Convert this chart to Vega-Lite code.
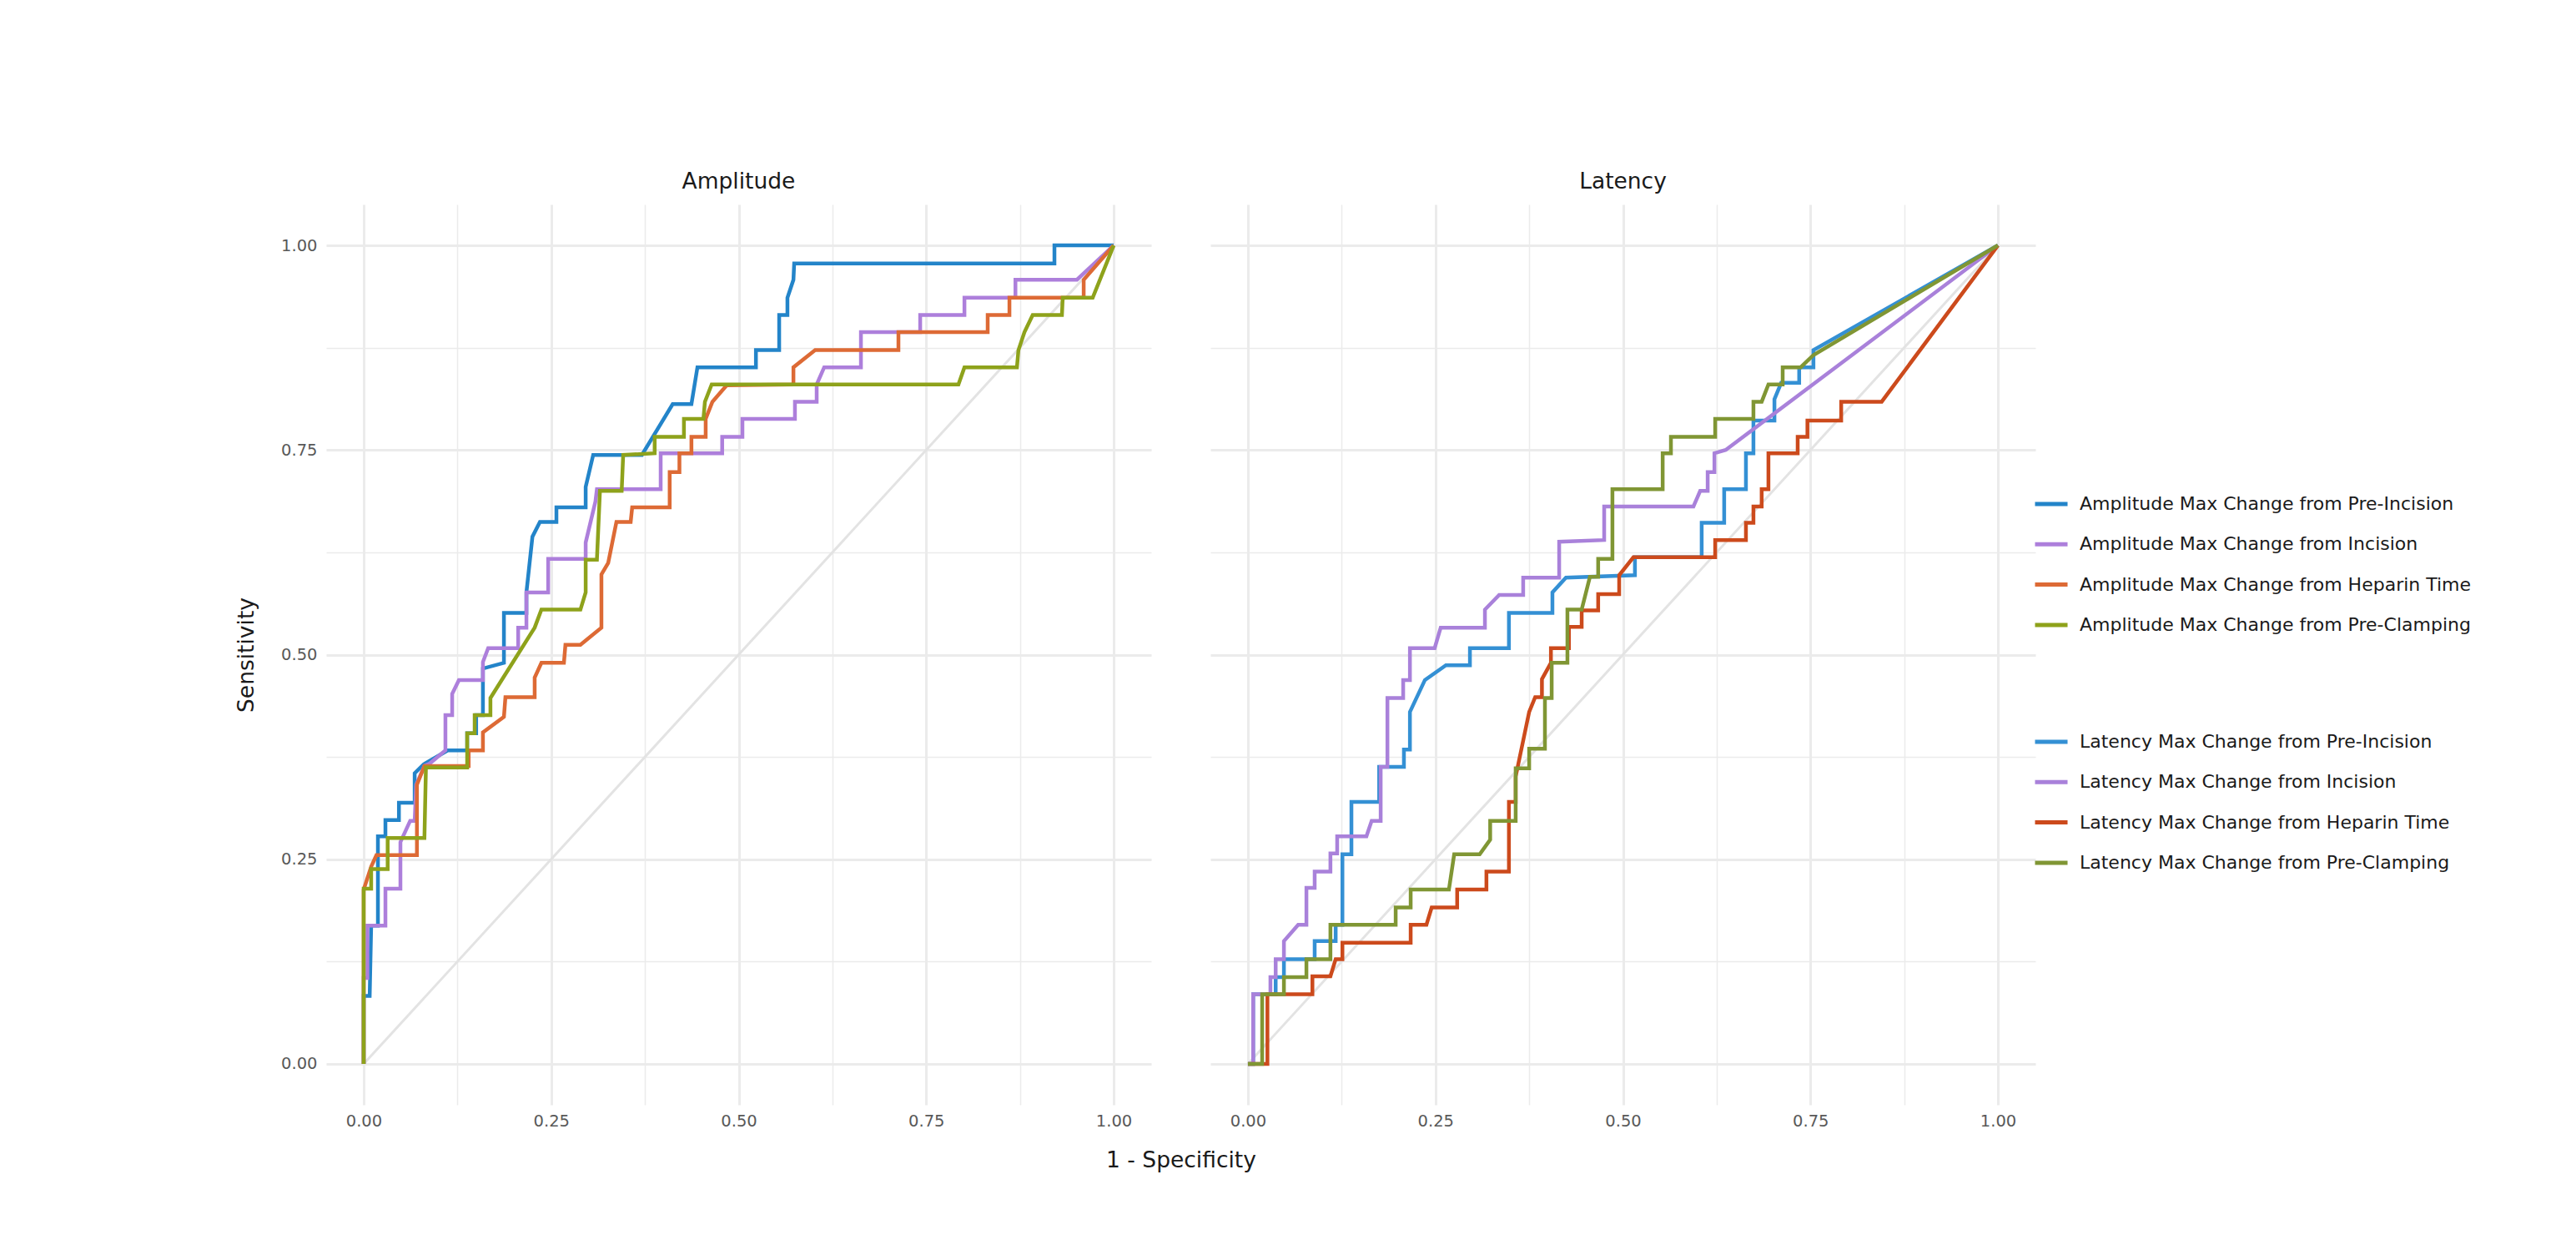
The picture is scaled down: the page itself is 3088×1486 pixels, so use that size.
{
  "$schema": "https://vega.github.io/schema/vega-lite/v6.json",
  "background": "white",
  "padding": {"left": 282, "top": 204, "right": 40, "bottom": 40},
  "config": {
    "font": "DejaVu Sans",
    "view": {"stroke": null}
  },
  "datasets": {
    "roc": [
      {"m":"Amplitude","s":"ref","x":0,"y":0},{"m":"Amplitude","s":"ref","x":1,"y":1},
      {"m":"Latency","s":"ref","x":0,"y":0},{"m":"Latency","s":"ref","x":1,"y":1},

      {"m":"Amplitude","s":"Amplitude Max Change from Pre-Incision","x":0,"y":0},{"m":"Amplitude","s":"Amplitude Max Change from Pre-Incision","x":0,"y":0.083},{"m":"Amplitude","s":"Amplitude Max Change from Pre-Incision","x":0.008,"y":0.083},{"m":"Amplitude","s":"Amplitude Max Change from Pre-Incision","x":0.010,"y":0.169},{"m":"Amplitude","s":"Amplitude Max Change from Pre-Incision","x":0.019,"y":0.169},{"m":"Amplitude","s":"Amplitude Max Change from Pre-Incision","x":0.019,"y":0.278},{"m":"Amplitude","s":"Amplitude Max Change from Pre-Incision","x":0.029,"y":0.278},{"m":"Amplitude","s":"Amplitude Max Change from Pre-Incision","x":0.029,"y":0.298},{"m":"Amplitude","s":"Amplitude Max Change from Pre-Incision","x":0.047,"y":0.298},{"m":"Amplitude","s":"Amplitude Max Change from Pre-Incision","x":0.047,"y":0.319},{"m":"Amplitude","s":"Amplitude Max Change from Pre-Incision","x":0.068,"y":0.319},{"m":"Amplitude","s":"Amplitude Max Change from Pre-Incision","x":0.068,"y":0.355},{"m":"Amplitude","s":"Amplitude Max Change from Pre-Incision","x":0.080,"y":0.366},{"m":"Amplitude","s":"Amplitude Max Change from Pre-Incision","x":0.112,"y":0.383},{"m":"Amplitude","s":"Amplitude Max Change from Pre-Incision","x":0.138,"y":0.383},{"m":"Amplitude","s":"Amplitude Max Change from Pre-Incision","x":0.138,"y":0.404},{"m":"Amplitude","s":"Amplitude Max Change from Pre-Incision","x":0.150,"y":0.404},{"m":"Amplitude","s":"Amplitude Max Change from Pre-Incision","x":0.150,"y":0.426},{"m":"Amplitude","s":"Amplitude Max Change from Pre-Incision","x":0.159,"y":0.426},{"m":"Amplitude","s":"Amplitude Max Change from Pre-Incision","x":0.159,"y":0.483},{"m":"Amplitude","s":"Amplitude Max Change from Pre-Incision","x":0.187,"y":0.490},{"m":"Amplitude","s":"Amplitude Max Change from Pre-Incision","x":0.187,"y":0.551},{"m":"Amplitude","s":"Amplitude Max Change from Pre-Incision","x":0.217,"y":0.551},{"m":"Amplitude","s":"Amplitude Max Change from Pre-Incision","x":0.217,"y":0.576},{"m":"Amplitude","s":"Amplitude Max Change from Pre-Incision","x":0.225,"y":0.644},{"m":"Amplitude","s":"Amplitude Max Change from Pre-Incision","x":0.235,"y":0.662},{"m":"Amplitude","s":"Amplitude Max Change from Pre-Incision","x":0.257,"y":0.662},{"m":"Amplitude","s":"Amplitude Max Change from Pre-Incision","x":0.257,"y":0.680},{"m":"Amplitude","s":"Amplitude Max Change from Pre-Incision","x":0.296,"y":0.680},{"m":"Amplitude","s":"Amplitude Max Change from Pre-Incision","x":0.296,"y":0.705},{"m":"Amplitude","s":"Amplitude Max Change from Pre-Incision","x":0.306,"y":0.744},{"m":"Amplitude","s":"Amplitude Max Change from Pre-Incision","x":0.371,"y":0.744},{"m":"Amplitude","s":"Amplitude Max Change from Pre-Incision","x":0.412,"y":0.806},{"m":"Amplitude","s":"Amplitude Max Change from Pre-Incision","x":0.437,"y":0.806},{"m":"Amplitude","s":"Amplitude Max Change from Pre-Incision","x":0.445,"y":0.851},{"m":"Amplitude","s":"Amplitude Max Change from Pre-Incision","x":0.523,"y":0.851},{"m":"Amplitude","s":"Amplitude Max Change from Pre-Incision","x":0.523,"y":0.872},{"m":"Amplitude","s":"Amplitude Max Change from Pre-Incision","x":0.554,"y":0.872},{"m":"Amplitude","s":"Amplitude Max Change from Pre-Incision","x":0.554,"y":0.915},{"m":"Amplitude","s":"Amplitude Max Change from Pre-Incision","x":0.565,"y":0.915},{"m":"Amplitude","s":"Amplitude Max Change from Pre-Incision","x":0.565,"y":0.936},{"m":"Amplitude","s":"Amplitude Max Change from Pre-Incision","x":0.573,"y":0.958},{"m":"Amplitude","s":"Amplitude Max Change from Pre-Incision","x":0.574,"y":0.978},{"m":"Amplitude","s":"Amplitude Max Change from Pre-Incision","x":0.921,"y":0.978},{"m":"Amplitude","s":"Amplitude Max Change from Pre-Incision","x":0.921,"y":1},{"m":"Amplitude","s":"Amplitude Max Change from Pre-Incision","x":1,"y":1},

      {"m":"Amplitude","s":"Amplitude Max Change from Incision","x":0,"y":0},{"m":"Amplitude","s":"Amplitude Max Change from Incision","x":0,"y":0.105},{"m":"Amplitude","s":"Amplitude Max Change from Incision","x":0.005,"y":0.105},{"m":"Amplitude","s":"Amplitude Max Change from Incision","x":0.005,"y":0.169},{"m":"Amplitude","s":"Amplitude Max Change from Incision","x":0.029,"y":0.169},{"m":"Amplitude","s":"Amplitude Max Change from Incision","x":0.029,"y":0.214},{"m":"Amplitude","s":"Amplitude Max Change from Incision","x":0.049,"y":0.214},{"m":"Amplitude","s":"Amplitude Max Change from Incision","x":0.049,"y":0.271},{"m":"Amplitude","s":"Amplitude Max Change from Incision","x":0.062,"y":0.297},{"m":"Amplitude","s":"Amplitude Max Change from Incision","x":0.068,"y":0.297},{"m":"Amplitude","s":"Amplitude Max Change from Incision","x":0.070,"y":0.341},{"m":"Amplitude","s":"Amplitude Max Change from Incision","x":0.081,"y":0.364},{"m":"Amplitude","s":"Amplitude Max Change from Incision","x":0.088,"y":0.367},{"m":"Amplitude","s":"Amplitude Max Change from Incision","x":0.109,"y":0.383},{"m":"Amplitude","s":"Amplitude Max Change from Incision","x":0.109,"y":0.426},{"m":"Amplitude","s":"Amplitude Max Change from Incision","x":0.118,"y":0.426},{"m":"Amplitude","s":"Amplitude Max Change from Incision","x":0.118,"y":0.452},{"m":"Amplitude","s":"Amplitude Max Change from Incision","x":0.127,"y":0.469},{"m":"Amplitude","s":"Amplitude Max Change from Incision","x":0.159,"y":0.469},{"m":"Amplitude","s":"Amplitude Max Change from Incision","x":0.159,"y":0.491},{"m":"Amplitude","s":"Amplitude Max Change from Incision","x":0.166,"y":0.508},{"m":"Amplitude","s":"Amplitude Max Change from Incision","x":0.206,"y":0.508},{"m":"Amplitude","s":"Amplitude Max Change from Incision","x":0.206,"y":0.533},{"m":"Amplitude","s":"Amplitude Max Change from Incision","x":0.217,"y":0.533},{"m":"Amplitude","s":"Amplitude Max Change from Incision","x":0.217,"y":0.576},{"m":"Amplitude","s":"Amplitude Max Change from Incision","x":0.246,"y":0.576},{"m":"Amplitude","s":"Amplitude Max Change from Incision","x":0.246,"y":0.617},{"m":"Amplitude","s":"Amplitude Max Change from Incision","x":0.296,"y":0.617},{"m":"Amplitude","s":"Amplitude Max Change from Incision","x":0.296,"y":0.637},{"m":"Amplitude","s":"Amplitude Max Change from Incision","x":0.309,"y":0.687},{"m":"Amplitude","s":"Amplitude Max Change from Incision","x":0.311,"y":0.702},{"m":"Amplitude","s":"Amplitude Max Change from Incision","x":0.396,"y":0.702},{"m":"Amplitude","s":"Amplitude Max Change from Incision","x":0.396,"y":0.746},{"m":"Amplitude","s":"Amplitude Max Change from Incision","x":0.478,"y":0.746},{"m":"Amplitude","s":"Amplitude Max Change from Incision","x":0.478,"y":0.766},{"m":"Amplitude","s":"Amplitude Max Change from Incision","x":0.505,"y":0.766},{"m":"Amplitude","s":"Amplitude Max Change from Incision","x":0.505,"y":0.788},{"m":"Amplitude","s":"Amplitude Max Change from Incision","x":0.575,"y":0.788},{"m":"Amplitude","s":"Amplitude Max Change from Incision","x":0.575,"y":0.809},{"m":"Amplitude","s":"Amplitude Max Change from Incision","x":0.604,"y":0.809},{"m":"Amplitude","s":"Amplitude Max Change from Incision","x":0.604,"y":0.830},{"m":"Amplitude","s":"Amplitude Max Change from Incision","x":0.614,"y":0.851},{"m":"Amplitude","s":"Amplitude Max Change from Incision","x":0.663,"y":0.851},{"m":"Amplitude","s":"Amplitude Max Change from Incision","x":0.663,"y":0.894},{"m":"Amplitude","s":"Amplitude Max Change from Incision","x":0.742,"y":0.894},{"m":"Amplitude","s":"Amplitude Max Change from Incision","x":0.742,"y":0.915},{"m":"Amplitude","s":"Amplitude Max Change from Incision","x":0.801,"y":0.915},{"m":"Amplitude","s":"Amplitude Max Change from Incision","x":0.801,"y":0.936},{"m":"Amplitude","s":"Amplitude Max Change from Incision","x":0.869,"y":0.936},{"m":"Amplitude","s":"Amplitude Max Change from Incision","x":0.869,"y":0.958},{"m":"Amplitude","s":"Amplitude Max Change from Incision","x":0.951,"y":0.958},{"m":"Amplitude","s":"Amplitude Max Change from Incision","x":1,"y":1},

      {"m":"Amplitude","s":"Amplitude Max Change from Heparin Time","x":0,"y":0},{"m":"Amplitude","s":"Amplitude Max Change from Heparin Time","x":0,"y":0.213},{"m":"Amplitude","s":"Amplitude Max Change from Heparin Time","x":0.010,"y":0.241},{"m":"Amplitude","s":"Amplitude Max Change from Heparin Time","x":0.017,"y":0.255},{"m":"Amplitude","s":"Amplitude Max Change from Heparin Time","x":0.071,"y":0.255},{"m":"Amplitude","s":"Amplitude Max Change from Heparin Time","x":0.071,"y":0.341},{"m":"Amplitude","s":"Amplitude Max Change from Heparin Time","x":0.081,"y":0.364},{"m":"Amplitude","s":"Amplitude Max Change from Heparin Time","x":0.140,"y":0.364},{"m":"Amplitude","s":"Amplitude Max Change from Heparin Time","x":0.140,"y":0.383},{"m":"Amplitude","s":"Amplitude Max Change from Heparin Time","x":0.159,"y":0.383},{"m":"Amplitude","s":"Amplitude Max Change from Heparin Time","x":0.159,"y":0.405},{"m":"Amplitude","s":"Amplitude Max Change from Heparin Time","x":0.187,"y":0.424},{"m":"Amplitude","s":"Amplitude Max Change from Heparin Time","x":0.189,"y":0.448},{"m":"Amplitude","s":"Amplitude Max Change from Heparin Time","x":0.228,"y":0.448},{"m":"Amplitude","s":"Amplitude Max Change from Heparin Time","x":0.228,"y":0.472},{"m":"Amplitude","s":"Amplitude Max Change from Heparin Time","x":0.237,"y":0.490},{"m":"Amplitude","s":"Amplitude Max Change from Heparin Time","x":0.267,"y":0.490},{"m":"Amplitude","s":"Amplitude Max Change from Heparin Time","x":0.269,"y":0.512},{"m":"Amplitude","s":"Amplitude Max Change from Heparin Time","x":0.289,"y":0.512},{"m":"Amplitude","s":"Amplitude Max Change from Heparin Time","x":0.317,"y":0.533},{"m":"Amplitude","s":"Amplitude Max Change from Heparin Time","x":0.317,"y":0.598},{"m":"Amplitude","s":"Amplitude Max Change from Heparin Time","x":0.326,"y":0.612},{"m":"Amplitude","s":"Amplitude Max Change from Heparin Time","x":0.337,"y":0.662},{"m":"Amplitude","s":"Amplitude Max Change from Heparin Time","x":0.356,"y":0.662},{"m":"Amplitude","s":"Amplitude Max Change from Heparin Time","x":0.358,"y":0.680},{"m":"Amplitude","s":"Amplitude Max Change from Heparin Time","x":0.408,"y":0.680},{"m":"Amplitude","s":"Amplitude Max Change from Heparin Time","x":0.408,"y":0.723},{"m":"Amplitude","s":"Amplitude Max Change from Heparin Time","x":0.421,"y":0.723},{"m":"Amplitude","s":"Amplitude Max Change from Heparin Time","x":0.421,"y":0.746},{"m":"Amplitude","s":"Amplitude Max Change from Heparin Time","x":0.437,"y":0.746},{"m":"Amplitude","s":"Amplitude Max Change from Heparin Time","x":0.437,"y":0.766},{"m":"Amplitude","s":"Amplitude Max Change from Heparin Time","x":0.456,"y":0.766},{"m":"Amplitude","s":"Amplitude Max Change from Heparin Time","x":0.456,"y":0.788},{"m":"Amplitude","s":"Amplitude Max Change from Heparin Time","x":0.465,"y":0.809},{"m":"Amplitude","s":"Amplitude Max Change from Heparin Time","x":0.484,"y":0.829},{"m":"Amplitude","s":"Amplitude Max Change from Heparin Time","x":0.573,"y":0.830},{"m":"Amplitude","s":"Amplitude Max Change from Heparin Time","x":0.573,"y":0.851},{"m":"Amplitude","s":"Amplitude Max Change from Heparin Time","x":0.602,"y":0.872},{"m":"Amplitude","s":"Amplitude Max Change from Heparin Time","x":0.713,"y":0.872},{"m":"Amplitude","s":"Amplitude Max Change from Heparin Time","x":0.713,"y":0.894},{"m":"Amplitude","s":"Amplitude Max Change from Heparin Time","x":0.832,"y":0.894},{"m":"Amplitude","s":"Amplitude Max Change from Heparin Time","x":0.832,"y":0.915},{"m":"Amplitude","s":"Amplitude Max Change from Heparin Time","x":0.861,"y":0.915},{"m":"Amplitude","s":"Amplitude Max Change from Heparin Time","x":0.861,"y":0.936},{"m":"Amplitude","s":"Amplitude Max Change from Heparin Time","x":0.960,"y":0.936},{"m":"Amplitude","s":"Amplitude Max Change from Heparin Time","x":0.960,"y":0.958},{"m":"Amplitude","s":"Amplitude Max Change from Heparin Time","x":1,"y":1},

      {"m":"Amplitude","s":"Amplitude Max Change from Pre-Clamping","x":0,"y":0},{"m":"Amplitude","s":"Amplitude Max Change from Pre-Clamping","x":0,"y":0.214},{"m":"Amplitude","s":"Amplitude Max Change from Pre-Clamping","x":0.010,"y":0.214},{"m":"Amplitude","s":"Amplitude Max Change from Pre-Clamping","x":0.010,"y":0.238},{"m":"Amplitude","s":"Amplitude Max Change from Pre-Clamping","x":0.032,"y":0.238},{"m":"Amplitude","s":"Amplitude Max Change from Pre-Clamping","x":0.032,"y":0.276},{"m":"Amplitude","s":"Amplitude Max Change from Pre-Clamping","x":0.081,"y":0.276},{"m":"Amplitude","s":"Amplitude Max Change from Pre-Clamping","x":0.083,"y":0.362},{"m":"Amplitude","s":"Amplitude Max Change from Pre-Clamping","x":0.138,"y":0.362},{"m":"Amplitude","s":"Amplitude Max Change from Pre-Clamping","x":0.138,"y":0.404},{"m":"Amplitude","s":"Amplitude Max Change from Pre-Clamping","x":0.148,"y":0.404},{"m":"Amplitude","s":"Amplitude Max Change from Pre-Clamping","x":0.148,"y":0.426},{"m":"Amplitude","s":"Amplitude Max Change from Pre-Clamping","x":0.169,"y":0.426},{"m":"Amplitude","s":"Amplitude Max Change from Pre-Clamping","x":0.169,"y":0.447},{"m":"Amplitude","s":"Amplitude Max Change from Pre-Clamping","x":0.228,"y":0.533},{"m":"Amplitude","s":"Amplitude Max Change from Pre-Clamping","x":0.237,"y":0.555},{"m":"Amplitude","s":"Amplitude Max Change from Pre-Clamping","x":0.289,"y":0.555},{"m":"Amplitude","s":"Amplitude Max Change from Pre-Clamping","x":0.296,"y":0.576},{"m":"Amplitude","s":"Amplitude Max Change from Pre-Clamping","x":0.296,"y":0.616},{"m":"Amplitude","s":"Amplitude Max Change from Pre-Clamping","x":0.311,"y":0.616},{"m":"Amplitude","s":"Amplitude Max Change from Pre-Clamping","x":0.315,"y":0.700},{"m":"Amplitude","s":"Amplitude Max Change from Pre-Clamping","x":0.344,"y":0.700},{"m":"Amplitude","s":"Amplitude Max Change from Pre-Clamping","x":0.346,"y":0.744},{"m":"Amplitude","s":"Amplitude Max Change from Pre-Clamping","x":0.388,"y":0.746},{"m":"Amplitude","s":"Amplitude Max Change from Pre-Clamping","x":0.388,"y":0.766},{"m":"Amplitude","s":"Amplitude Max Change from Pre-Clamping","x":0.427,"y":0.766},{"m":"Amplitude","s":"Amplitude Max Change from Pre-Clamping","x":0.427,"y":0.788},{"m":"Amplitude","s":"Amplitude Max Change from Pre-Clamping","x":0.453,"y":0.788},{"m":"Amplitude","s":"Amplitude Max Change from Pre-Clamping","x":0.455,"y":0.809},{"m":"Amplitude","s":"Amplitude Max Change from Pre-Clamping","x":0.464,"y":0.830},{"m":"Amplitude","s":"Amplitude Max Change from Pre-Clamping","x":0.793,"y":0.830},{"m":"Amplitude","s":"Amplitude Max Change from Pre-Clamping","x":0.801,"y":0.851},{"m":"Amplitude","s":"Amplitude Max Change from Pre-Clamping","x":0.871,"y":0.851},{"m":"Amplitude","s":"Amplitude Max Change from Pre-Clamping","x":0.873,"y":0.872},{"m":"Amplitude","s":"Amplitude Max Change from Pre-Clamping","x":0.881,"y":0.894},{"m":"Amplitude","s":"Amplitude Max Change from Pre-Clamping","x":0.892,"y":0.915},{"m":"Amplitude","s":"Amplitude Max Change from Pre-Clamping","x":0.931,"y":0.915},{"m":"Amplitude","s":"Amplitude Max Change from Pre-Clamping","x":0.932,"y":0.936},{"m":"Amplitude","s":"Amplitude Max Change from Pre-Clamping","x":0.972,"y":0.936},{"m":"Amplitude","s":"Amplitude Max Change from Pre-Clamping","x":1,"y":1},

      {"m":"Latency","s":"Latency Max Change from Pre-Incision","x":0,"y":0},{"m":"Latency","s":"Latency Max Change from Pre-Incision","x":0.007,"y":0},{"m":"Latency","s":"Latency Max Change from Pre-Incision","x":0.007,"y":0.085},{"m":"Latency","s":"Latency Max Change from Pre-Incision","x":0.037,"y":0.085},{"m":"Latency","s":"Latency Max Change from Pre-Incision","x":0.037,"y":0.106},{"m":"Latency","s":"Latency Max Change from Pre-Incision","x":0.048,"y":0.106},{"m":"Latency","s":"Latency Max Change from Pre-Incision","x":0.048,"y":0.128},{"m":"Latency","s":"Latency Max Change from Pre-Incision","x":0.089,"y":0.128},{"m":"Latency","s":"Latency Max Change from Pre-Incision","x":0.089,"y":0.150},{"m":"Latency","s":"Latency Max Change from Pre-Incision","x":0.117,"y":0.150},{"m":"Latency","s":"Latency Max Change from Pre-Incision","x":0.117,"y":0.170},{"m":"Latency","s":"Latency Max Change from Pre-Incision","x":0.126,"y":0.170},{"m":"Latency","s":"Latency Max Change from Pre-Incision","x":0.126,"y":0.256},{"m":"Latency","s":"Latency Max Change from Pre-Incision","x":0.138,"y":0.256},{"m":"Latency","s":"Latency Max Change from Pre-Incision","x":0.138,"y":0.320},{"m":"Latency","s":"Latency Max Change from Pre-Incision","x":0.175,"y":0.320},{"m":"Latency","s":"Latency Max Change from Pre-Incision","x":0.175,"y":0.363},{"m":"Latency","s":"Latency Max Change from Pre-Incision","x":0.208,"y":0.363},{"m":"Latency","s":"Latency Max Change from Pre-Incision","x":0.208,"y":0.384},{"m":"Latency","s":"Latency Max Change from Pre-Incision","x":0.216,"y":0.384},{"m":"Latency","s":"Latency Max Change from Pre-Incision","x":0.216,"y":0.430},{"m":"Latency","s":"Latency Max Change from Pre-Incision","x":0.236,"y":0.469},{"m":"Latency","s":"Latency Max Change from Pre-Incision","x":0.264,"y":0.487},{"m":"Latency","s":"Latency Max Change from Pre-Incision","x":0.296,"y":0.487},{"m":"Latency","s":"Latency Max Change from Pre-Incision","x":0.296,"y":0.508},{"m":"Latency","s":"Latency Max Change from Pre-Incision","x":0.348,"y":0.508},{"m":"Latency","s":"Latency Max Change from Pre-Incision","x":0.348,"y":0.551},{"m":"Latency","s":"Latency Max Change from Pre-Incision","x":0.406,"y":0.551},{"m":"Latency","s":"Latency Max Change from Pre-Incision","x":0.406,"y":0.576},{"m":"Latency","s":"Latency Max Change from Pre-Incision","x":0.424,"y":0.594},{"m":"Latency","s":"Latency Max Change from Pre-Incision","x":0.516,"y":0.597},{"m":"Latency","s":"Latency Max Change from Pre-Incision","x":0.516,"y":0.619},{"m":"Latency","s":"Latency Max Change from Pre-Incision","x":0.605,"y":0.619},{"m":"Latency","s":"Latency Max Change from Pre-Incision","x":0.605,"y":0.661},{"m":"Latency","s":"Latency Max Change from Pre-Incision","x":0.635,"y":0.661},{"m":"Latency","s":"Latency Max Change from Pre-Incision","x":0.635,"y":0.702},{"m":"Latency","s":"Latency Max Change from Pre-Incision","x":0.664,"y":0.702},{"m":"Latency","s":"Latency Max Change from Pre-Incision","x":0.664,"y":0.746},{"m":"Latency","s":"Latency Max Change from Pre-Incision","x":0.674,"y":0.746},{"m":"Latency","s":"Latency Max Change from Pre-Incision","x":0.674,"y":0.786},{"m":"Latency","s":"Latency Max Change from Pre-Incision","x":0.702,"y":0.786},{"m":"Latency","s":"Latency Max Change from Pre-Incision","x":0.702,"y":0.812},{"m":"Latency","s":"Latency Max Change from Pre-Incision","x":0.711,"y":0.832},{"m":"Latency","s":"Latency Max Change from Pre-Incision","x":0.735,"y":0.832},{"m":"Latency","s":"Latency Max Change from Pre-Incision","x":0.735,"y":0.851},{"m":"Latency","s":"Latency Max Change from Pre-Incision","x":0.754,"y":0.851},{"m":"Latency","s":"Latency Max Change from Pre-Incision","x":0.754,"y":0.872},{"m":"Latency","s":"Latency Max Change from Pre-Incision","x":1,"y":1},

      {"m":"Latency","s":"Latency Max Change from Incision","x":0,"y":0},{"m":"Latency","s":"Latency Max Change from Incision","x":0.007,"y":0},{"m":"Latency","s":"Latency Max Change from Incision","x":0.007,"y":0.085},{"m":"Latency","s":"Latency Max Change from Incision","x":0.030,"y":0.085},{"m":"Latency","s":"Latency Max Change from Incision","x":0.030,"y":0.106},{"m":"Latency","s":"Latency Max Change from Incision","x":0.037,"y":0.106},{"m":"Latency","s":"Latency Max Change from Incision","x":0.037,"y":0.128},{"m":"Latency","s":"Latency Max Change from Incision","x":0.048,"y":0.128},{"m":"Latency","s":"Latency Max Change from Incision","x":0.048,"y":0.150},{"m":"Latency","s":"Latency Max Change from Incision","x":0.067,"y":0.170},{"m":"Latency","s":"Latency Max Change from Incision","x":0.078,"y":0.170},{"m":"Latency","s":"Latency Max Change from Incision","x":0.078,"y":0.215},{"m":"Latency","s":"Latency Max Change from Incision","x":0.089,"y":0.215},{"m":"Latency","s":"Latency Max Change from Incision","x":0.089,"y":0.235},{"m":"Latency","s":"Latency Max Change from Incision","x":0.110,"y":0.235},{"m":"Latency","s":"Latency Max Change from Incision","x":0.110,"y":0.257},{"m":"Latency","s":"Latency Max Change from Incision","x":0.119,"y":0.257},{"m":"Latency","s":"Latency Max Change from Incision","x":0.119,"y":0.278},{"m":"Latency","s":"Latency Max Change from Incision","x":0.158,"y":0.278},{"m":"Latency","s":"Latency Max Change from Incision","x":0.165,"y":0.297},{"m":"Latency","s":"Latency Max Change from Incision","x":0.177,"y":0.297},{"m":"Latency","s":"Latency Max Change from Incision","x":0.177,"y":0.363},{"m":"Latency","s":"Latency Max Change from Incision","x":0.186,"y":0.363},{"m":"Latency","s":"Latency Max Change from Incision","x":0.186,"y":0.447},{"m":"Latency","s":"Latency Max Change from Incision","x":0.207,"y":0.447},{"m":"Latency","s":"Latency Max Change from Incision","x":0.207,"y":0.469},{"m":"Latency","s":"Latency Max Change from Incision","x":0.216,"y":0.469},{"m":"Latency","s":"Latency Max Change from Incision","x":0.216,"y":0.508},{"m":"Latency","s":"Latency Max Change from Incision","x":0.249,"y":0.508},{"m":"Latency","s":"Latency Max Change from Incision","x":0.257,"y":0.533},{"m":"Latency","s":"Latency Max Change from Incision","x":0.316,"y":0.533},{"m":"Latency","s":"Latency Max Change from Incision","x":0.316,"y":0.555},{"m":"Latency","s":"Latency Max Change from Incision","x":0.335,"y":0.573},{"m":"Latency","s":"Latency Max Change from Incision","x":0.367,"y":0.573},{"m":"Latency","s":"Latency Max Change from Incision","x":0.367,"y":0.594},{"m":"Latency","s":"Latency Max Change from Incision","x":0.415,"y":0.594},{"m":"Latency","s":"Latency Max Change from Incision","x":0.415,"y":0.638},{"m":"Latency","s":"Latency Max Change from Incision","x":0.475,"y":0.640},{"m":"Latency","s":"Latency Max Change from Incision","x":0.475,"y":0.681},{"m":"Latency","s":"Latency Max Change from Incision","x":0.594,"y":0.681},{"m":"Latency","s":"Latency Max Change from Incision","x":0.603,"y":0.700},{"m":"Latency","s":"Latency Max Change from Incision","x":0.613,"y":0.700},{"m":"Latency","s":"Latency Max Change from Incision","x":0.613,"y":0.723},{"m":"Latency","s":"Latency Max Change from Incision","x":0.622,"y":0.723},{"m":"Latency","s":"Latency Max Change from Incision","x":0.622,"y":0.746},{"m":"Latency","s":"Latency Max Change from Incision","x":0.637,"y":0.750},{"m":"Latency","s":"Latency Max Change from Incision","x":1,"y":1},

      {"m":"Latency","s":"Latency Max Change from Heparin Time","x":0,"y":0},{"m":"Latency","s":"Latency Max Change from Heparin Time","x":0.026,"y":0},{"m":"Latency","s":"Latency Max Change from Heparin Time","x":0.026,"y":0.085},{"m":"Latency","s":"Latency Max Change from Heparin Time","x":0.086,"y":0.085},{"m":"Latency","s":"Latency Max Change from Heparin Time","x":0.086,"y":0.107},{"m":"Latency","s":"Latency Max Change from Heparin Time","x":0.110,"y":0.107},{"m":"Latency","s":"Latency Max Change from Heparin Time","x":0.117,"y":0.128},{"m":"Latency","s":"Latency Max Change from Heparin Time","x":0.126,"y":0.128},{"m":"Latency","s":"Latency Max Change from Heparin Time","x":0.126,"y":0.148},{"m":"Latency","s":"Latency Max Change from Heparin Time","x":0.217,"y":0.148},{"m":"Latency","s":"Latency Max Change from Heparin Time","x":0.217,"y":0.170},{"m":"Latency","s":"Latency Max Change from Heparin Time","x":0.238,"y":0.170},{"m":"Latency","s":"Latency Max Change from Heparin Time","x":0.245,"y":0.191},{"m":"Latency","s":"Latency Max Change from Heparin Time","x":0.279,"y":0.191},{"m":"Latency","s":"Latency Max Change from Heparin Time","x":0.279,"y":0.213},{"m":"Latency","s":"Latency Max Change from Heparin Time","x":0.318,"y":0.213},{"m":"Latency","s":"Latency Max Change from Heparin Time","x":0.318,"y":0.235},{"m":"Latency","s":"Latency Max Change from Heparin Time","x":0.348,"y":0.235},{"m":"Latency","s":"Latency Max Change from Heparin Time","x":0.348,"y":0.320},{"m":"Latency","s":"Latency Max Change from Heparin Time","x":0.357,"y":0.320},{"m":"Latency","s":"Latency Max Change from Heparin Time","x":0.357,"y":0.351},{"m":"Latency","s":"Latency Max Change from Heparin Time","x":0.375,"y":0.430},{"m":"Latency","s":"Latency Max Change from Heparin Time","x":0.383,"y":0.448},{"m":"Latency","s":"Latency Max Change from Heparin Time","x":0.392,"y":0.448},{"m":"Latency","s":"Latency Max Change from Heparin Time","x":0.392,"y":0.470},{"m":"Latency","s":"Latency Max Change from Heparin Time","x":0.404,"y":0.490},{"m":"Latency","s":"Latency Max Change from Heparin Time","x":0.404,"y":0.508},{"m":"Latency","s":"Latency Max Change from Heparin Time","x":0.428,"y":0.508},{"m":"Latency","s":"Latency Max Change from Heparin Time","x":0.428,"y":0.534},{"m":"Latency","s":"Latency Max Change from Heparin Time","x":0.445,"y":0.534},{"m":"Latency","s":"Latency Max Change from Heparin Time","x":0.445,"y":0.554},{"m":"Latency","s":"Latency Max Change from Heparin Time","x":0.467,"y":0.554},{"m":"Latency","s":"Latency Max Change from Heparin Time","x":0.467,"y":0.574},{"m":"Latency","s":"Latency Max Change from Heparin Time","x":0.495,"y":0.574},{"m":"Latency","s":"Latency Max Change from Heparin Time","x":0.495,"y":0.597},{"m":"Latency","s":"Latency Max Change from Heparin Time","x":0.514,"y":0.619},{"m":"Latency","s":"Latency Max Change from Heparin Time","x":0.623,"y":0.619},{"m":"Latency","s":"Latency Max Change from Heparin Time","x":0.623,"y":0.640},{"m":"Latency","s":"Latency Max Change from Heparin Time","x":0.664,"y":0.640},{"m":"Latency","s":"Latency Max Change from Heparin Time","x":0.664,"y":0.661},{"m":"Latency","s":"Latency Max Change from Heparin Time","x":0.674,"y":0.661},{"m":"Latency","s":"Latency Max Change from Heparin Time","x":0.674,"y":0.681},{"m":"Latency","s":"Latency Max Change from Heparin Time","x":0.685,"y":0.681},{"m":"Latency","s":"Latency Max Change from Heparin Time","x":0.685,"y":0.702},{"m":"Latency","s":"Latency Max Change from Heparin Time","x":0.694,"y":0.702},{"m":"Latency","s":"Latency Max Change from Heparin Time","x":0.694,"y":0.746},{"m":"Latency","s":"Latency Max Change from Heparin Time","x":0.733,"y":0.746},{"m":"Latency","s":"Latency Max Change from Heparin Time","x":0.733,"y":0.766},{"m":"Latency","s":"Latency Max Change from Heparin Time","x":0.746,"y":0.766},{"m":"Latency","s":"Latency Max Change from Heparin Time","x":0.746,"y":0.786},{"m":"Latency","s":"Latency Max Change from Heparin Time","x":0.791,"y":0.786},{"m":"Latency","s":"Latency Max Change from Heparin Time","x":0.791,"y":0.809},{"m":"Latency","s":"Latency Max Change from Heparin Time","x":0.845,"y":0.809},{"m":"Latency","s":"Latency Max Change from Heparin Time","x":1,"y":1},

      {"m":"Latency","s":"Latency Max Change from Pre-Clamping","x":0,"y":0},{"m":"Latency","s":"Latency Max Change from Pre-Clamping","x":0.019,"y":0},{"m":"Latency","s":"Latency Max Change from Pre-Clamping","x":0.019,"y":0.085},{"m":"Latency","s":"Latency Max Change from Pre-Clamping","x":0.048,"y":0.085},{"m":"Latency","s":"Latency Max Change from Pre-Clamping","x":0.048,"y":0.106},{"m":"Latency","s":"Latency Max Change from Pre-Clamping","x":0.078,"y":0.106},{"m":"Latency","s":"Latency Max Change from Pre-Clamping","x":0.078,"y":0.128},{"m":"Latency","s":"Latency Max Change from Pre-Clamping","x":0.110,"y":0.128},{"m":"Latency","s":"Latency Max Change from Pre-Clamping","x":0.110,"y":0.170},{"m":"Latency","s":"Latency Max Change from Pre-Clamping","x":0.197,"y":0.170},{"m":"Latency","s":"Latency Max Change from Pre-Clamping","x":0.197,"y":0.191},{"m":"Latency","s":"Latency Max Change from Pre-Clamping","x":0.217,"y":0.191},{"m":"Latency","s":"Latency Max Change from Pre-Clamping","x":0.217,"y":0.213},{"m":"Latency","s":"Latency Max Change from Pre-Clamping","x":0.268,"y":0.213},{"m":"Latency","s":"Latency Max Change from Pre-Clamping","x":0.275,"y":0.256},{"m":"Latency","s":"Latency Max Change from Pre-Clamping","x":0.309,"y":0.256},{"m":"Latency","s":"Latency Max Change from Pre-Clamping","x":0.323,"y":0.274},{"m":"Latency","s":"Latency Max Change from Pre-Clamping","x":0.323,"y":0.297},{"m":"Latency","s":"Latency Max Change from Pre-Clamping","x":0.357,"y":0.297},{"m":"Latency","s":"Latency Max Change from Pre-Clamping","x":0.357,"y":0.361},{"m":"Latency","s":"Latency Max Change from Pre-Clamping","x":0.375,"y":0.361},{"m":"Latency","s":"Latency Max Change from Pre-Clamping","x":0.375,"y":0.385},{"m":"Latency","s":"Latency Max Change from Pre-Clamping","x":0.396,"y":0.385},{"m":"Latency","s":"Latency Max Change from Pre-Clamping","x":0.396,"y":0.447},{"m":"Latency","s":"Latency Max Change from Pre-Clamping","x":0.405,"y":0.447},{"m":"Latency","s":"Latency Max Change from Pre-Clamping","x":0.405,"y":0.490},{"m":"Latency","s":"Latency Max Change from Pre-Clamping","x":0.426,"y":0.490},{"m":"Latency","s":"Latency Max Change from Pre-Clamping","x":0.426,"y":0.555},{"m":"Latency","s":"Latency Max Change from Pre-Clamping","x":0.445,"y":0.555},{"m":"Latency","s":"Latency Max Change from Pre-Clamping","x":0.456,"y":0.595},{"m":"Latency","s":"Latency Max Change from Pre-Clamping","x":0.467,"y":0.595},{"m":"Latency","s":"Latency Max Change from Pre-Clamping","x":0.467,"y":0.617},{"m":"Latency","s":"Latency Max Change from Pre-Clamping","x":0.486,"y":0.617},{"m":"Latency","s":"Latency Max Change from Pre-Clamping","x":0.486,"y":0.702},{"m":"Latency","s":"Latency Max Change from Pre-Clamping","x":0.553,"y":0.702},{"m":"Latency","s":"Latency Max Change from Pre-Clamping","x":0.553,"y":0.746},{"m":"Latency","s":"Latency Max Change from Pre-Clamping","x":0.564,"y":0.746},{"m":"Latency","s":"Latency Max Change from Pre-Clamping","x":0.564,"y":0.766},{"m":"Latency","s":"Latency Max Change from Pre-Clamping","x":0.623,"y":0.766},{"m":"Latency","s":"Latency Max Change from Pre-Clamping","x":0.623,"y":0.788},{"m":"Latency","s":"Latency Max Change from Pre-Clamping","x":0.674,"y":0.788},{"m":"Latency","s":"Latency Max Change from Pre-Clamping","x":0.674,"y":0.809},{"m":"Latency","s":"Latency Max Change from Pre-Clamping","x":0.685,"y":0.809},{"m":"Latency","s":"Latency Max Change from Pre-Clamping","x":0.694,"y":0.830},{"m":"Latency","s":"Latency Max Change from Pre-Clamping","x":0.713,"y":0.830},{"m":"Latency","s":"Latency Max Change from Pre-Clamping","x":0.713,"y":0.851},{"m":"Latency","s":"Latency Max Change from Pre-Clamping","x":0.737,"y":0.851},{"m":"Latency","s":"Latency Max Change from Pre-Clamping","x":0.754,"y":0.866},{"m":"Latency","s":"Latency Max Change from Pre-Clamping","x":1,"y":1}
    ]
  },
  "data": {"name": "roc"},
  "facet": {
    "column": {
      "field": "m",
      "type": "nominal",
      "sort": ["Amplitude", "Latency"],
      "title": "1 - Specificity",
      "header": {
        "labelOrient": "top",
        "labelFontSize": 26.5,
        "labelColor": "#1a1a1a",
        "labelPadding": 14,
        "titleOrient": "bottom",
        "titleFontSize": 26.5,
        "titleFontWeight": "normal",
        "titleColor": "#1a1a1a",
        "titlePadding": 15
      }
    }
  },
  "spacing": 71,
  "spec": {
    "width": 989,
    "height": 1079,
    "encoding": {
      "x": {
        "field": "x", "type": "quantitative",
        "scale": {"domain": [-0.05, 1.05], "nice": false, "zero": false},
        "axis": {
          "title": null,
          "values": [0, 0.125, 0.25, 0.375, 0.5, 0.625, 0.75, 0.875, 1],
          "format": ".2f",
          "labelExpr": "datum.value % 0.25 === 0 ? datum.label : ''",
          "domain": false, "ticks": false,
          "gridColor": "#EBEBEB",
          "gridWidth": {"condition": {"test": "datum.value % 0.25 === 0", "value": 3}, "value": 1.5},
          "labelFontSize": 19.5, "labelColor": "#595959", "labelPadding": 10
        }
      },
      "y": {
        "field": "y", "type": "quantitative",
        "scale": {"domain": [-0.05, 1.05], "nice": false, "zero": false},
        "axis": {
          "title": "Sensitivity",
          "values": [0, 0.125, 0.25, 0.375, 0.5, 0.625, 0.75, 0.875, 1],
          "format": ".2f",
          "labelExpr": "datum.value % 0.25 === 0 ? datum.label : ''",
          "domain": false, "ticks": false,
          "gridColor": "#EBEBEB",
          "gridWidth": {"condition": {"test": "datum.value % 0.25 === 0", "value": 3}, "value": 1.5},
          "labelFontSize": 19.5, "labelColor": "#595959", "labelPadding": 11,
          "titleFontSize": 26.5, "titleFontWeight": "normal", "titleColor": "#1a1a1a", "titlePadding": 27
        }
      }
    },
    "layer": [
      {
        "transform": [{"filter": "datum.s === 'ref'"}],
        "mark": {"type": "line", "color": "#E3E3E3", "strokeWidth": 3},
        "encoding": {}
      },
      {
        "transform": [{"filter": "datum.m === 'Amplitude' && datum.s !== 'ref'"}],
        "mark": {"type": "line", "strokeWidth": 4.5},
        "encoding": {
          "color": {
            "field": "s", "type": "nominal",
            "scale": {
              "domain": ["Amplitude Max Change from Pre-Incision", "Amplitude Max Change from Incision", "Amplitude Max Change from Heparin Time", "Amplitude Max Change from Pre-Clamping"],
              "range": ["#2384C9", "#AD7FDB", "#DD6A35", "#8EA21B"]
            },
            "legend": {
              "title": null, "orient": "none", "legendX": 2046, "legendY": 337,
              "symbolType": "stroke", "symbolSize": 1521, "symbolStrokeWidth": 5,
              "labelFontSize": 22, "labelColor": "#1a1a1a", "labelOffset": 12, "rowPadding": 15.3, "labelLimit": 1000
            }
          },
          "order": {"value": null}
        }
      },
      {
        "transform": [{"filter": "datum.m === 'Latency' && datum.s !== 'ref'"}],
        "mark": {"type": "line", "strokeWidth": 4.5},
        "encoding": {
          "stroke": {
            "field": "s", "type": "nominal",
            "scale": {
              "domain": ["Latency Max Change from Pre-Incision", "Latency Max Change from Incision", "Latency Max Change from Heparin Time", "Latency Max Change from Pre-Clamping"],
              "range": ["#3490D4", "#A981DA", "#CC4A1C", "#809634"]
            },
            "legend": {
              "title": null, "orient": "none", "legendX": 2046, "legendY": 622,
              "symbolType": "stroke", "symbolSize": 1521, "symbolStrokeWidth": 5,
              "labelFontSize": 22, "labelColor": "#1a1a1a", "labelOffset": 12, "rowPadding": 15.3, "labelLimit": 1000
            }
          },
          "order": {"value": null}
        }
      }
    ]
  }
}
